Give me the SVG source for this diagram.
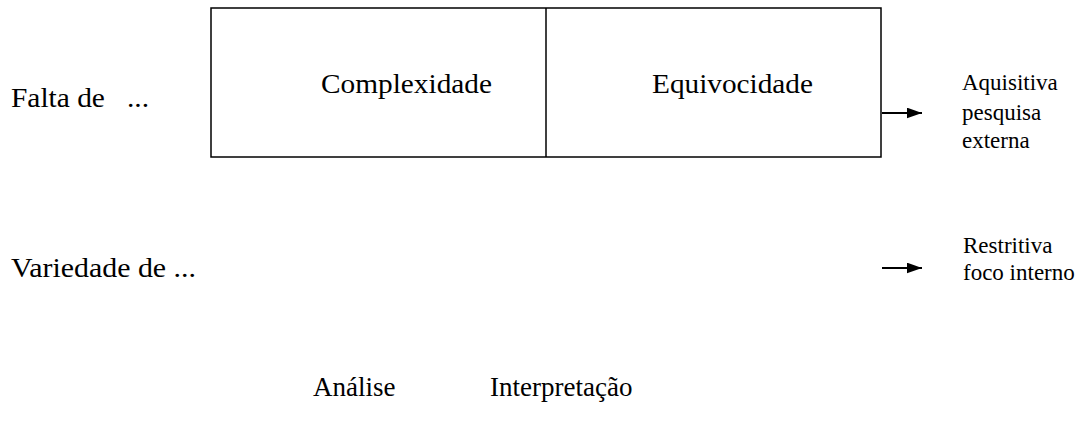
<svg xmlns="http://www.w3.org/2000/svg" width="1088" height="421" viewBox="0 0 1088 421">
<style>
.t{font-family:"Liberation Serif","Times New Roman",serif;font-size:28px;fill:#000}
.b{font-family:"Liberation Serif","Times New Roman",serif;font-size:27px;fill:#000}
.s{font-family:"Liberation Serif","Times New Roman",serif;font-size:23px;fill:#000}
.ln{stroke:#000;stroke-width:1.5;fill:none}
.ar{stroke:#000;stroke-width:2;fill:none}
</style>
<defs>
<marker id="ah" viewBox="0 0 14 10" refX="14" refY="5" markerWidth="15" markerHeight="11" markerUnits="userSpaceOnUse" orient="auto">
<path d="M0,0 L14,5 L0,10 Z" fill="#000"/>
</marker>
</defs>
<rect width="1088" height="421" fill="#fff"/>
<g id="labels-left">
<text class="t" x="11" y="107" textLength="138" lengthAdjust="spacingAndGlyphs" xml:space="preserve">Falta de   ...</text>
<text class="t" x="11" y="277" textLength="185" lengthAdjust="spacingAndGlyphs">Variedade de ...</text>
</g>
<g id="box">
<rect class="ln" x="211" y="8" width="670" height="149"/>
<line class="ln" x1="546" y1="8" x2="546" y2="157"/>
</g>
<g id="node-complexidade">
<text class="t" x="321" y="93" textLength="171" lengthAdjust="spacingAndGlyphs">Complexidade</text>
</g>
<g id="node-equivocidade">
<text class="t" x="652" y="93" textLength="161" lengthAdjust="spacingAndGlyphs">Equivocidade</text>
</g>
<g id="connectors">
<line class="ar" x1="882" y1="113" x2="922" y2="113" marker-end="url(#ah)"/>
<line class="ar" x1="882" y1="268" x2="922" y2="268" marker-end="url(#ah)"/>
</g>
<g id="node-aquisitiva">
<text class="s" x="962" y="90">Aquisitiva</text>
<text class="s" x="962" y="120">pesquisa</text>
<text class="s" x="962" y="148">externa</text>
</g>
<g id="node-restritiva">
<text class="s" x="963" y="253">Restritiva</text>
<text class="s" x="963" y="280">foco interno</text>
</g>
<g id="labels-bottom">
<text class="b" x="313" y="396">Análise</text>
<text class="b" x="490" y="396">Interpretação</text>
</g>
</svg>
